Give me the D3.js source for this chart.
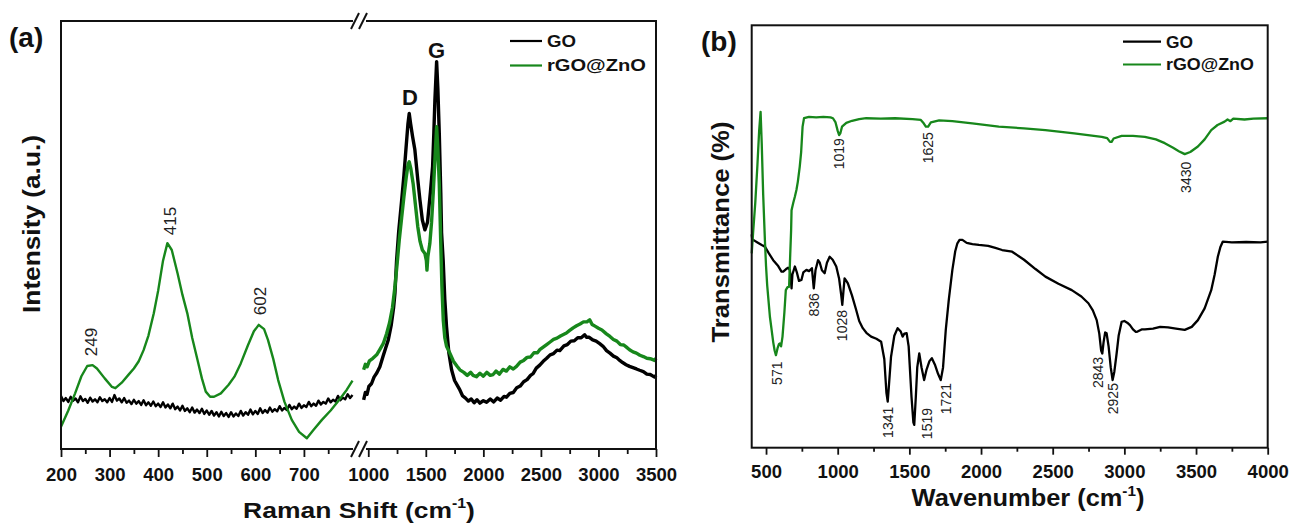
<!DOCTYPE html>
<html>
<head>
<meta charset="utf-8">
<script src="https://cdn.jsdelivr.net/npm/d3@7"></script>
<style>
  body { margin: 0; background: #fff; }
  svg { display: block; }
  text { font-family: "Liberation Sans", Arial, sans-serif; }
</style>
</head>
<body>
<svg id="fig" width="1294" height="525"></svg>
<script>
// ---------------- data ----------------

// (a) Raman : [shift cm-1, intensity a.u.]
const ramanGOLow = [
  [200,12.4],[205,11.2],[210,11.9],[215,11.0],[220,12.2],[225,11.3],[230,11.8],[235,10.9],[240,12.3],[245,11.2],
  [250,11.7],[255,10.8],[260,12.0],[265,11.1],[270,11.6],[275,10.9],[280,12.1],[285,11.2],[290,11.6],[295,10.9],
  [300,11.9],[305,11.0],[310,12.6],[315,11.3],[320,11.8],[325,10.9],[330,11.9],[335,10.8],[340,11.3],[345,10.5],
  [350,11.5],[355,10.6],[360,11.2],[365,10.3],[370,11.4],[375,10.2],[380,10.9],[385,10.1],[390,11.1],[395,10.0],
  [400,10.6],[405,9.8],[410,10.9],[415,9.7],[420,10.4],[425,9.5],[430,10.6],[435,9.3],[440,9.9],[445,9.0],
  [450,10.1],[455,8.9],[460,9.5],[465,8.6],[470,9.7],[475,8.5],[480,9.2],[485,8.4],[490,9.4],[495,8.2],
  [500,9.0],[505,8.0],[510,8.9],[515,7.8],[520,8.6],[525,7.6],[530,8.7],[535,7.7],[540,8.4],[545,7.5],
  [550,8.6],[555,7.6],[560,8.3],[565,7.7],[570,8.9],[575,7.8],[580,8.6],[585,8.0],[590,9.2],[595,8.1],
  [600,8.9],[605,8.2],[610,9.5],[615,8.4],[620,9.1],[625,8.5],[630,9.7],[635,8.7],[640,9.3],[645,8.8],
  [650,10.0],[655,9.0],[660,9.6],[665,9.1],[670,10.3],[675,9.3],[680,9.9],[685,9.4],[690,10.6],[695,9.6],
  [700,10.2],[705,9.8],[710,11.0],[715,10.0],[720,10.6],[725,10.1],[730,11.3],[735,10.4],[740,11.0],[745,10.6],
  [750,11.8],[755,10.9],[760,11.5],[765,11.1],[770,12.4],[775,11.4],[780,12.0],[785,11.6],[790,12.8],[795,11.9],[800,12.6]
];
const ramanZnOLow = [
  [200,5.2],[215,9],[229,13],[242,17],[254,19.4],[265,19.6],[274,18.8],[290,16.5],[305,14.5],[312,14.2],
  [325,15.5],[340,17.5],[350,18.8],[360,20.5],[370,23.1],[380,26.5],[391,31.7],[400,37],[410,44],[419,48.1],
  [428,46.5],[440,41],[450,36],[460,31.7],[470,26],[481,20.8],[490,16.5],[498,13.4],[507,12.2],[515,12.2],
  [529,13],[545,15],[557,16.9],[570,20],[585,24.3],[597,27.5],[607,29],[618,28],[626,25.5],[637,21],
  [647,16.1],[660,11],[675,6.8],[690,4],[706,2.5],[720,4.5],[737,6.8],[755,9],[772,11.4],[788,13.8],[800,16]
];
const ramanGOHigh = [
  [960,11.5],[975,13.2],[990,12.8],[1005,14.6],[1029,15.3],[1050,16.8],[1075,17.8],[1101,19.2],[1130,21.8],[1150,23.5],
  [1174,25.5],[1200,29],[1220,33],[1232,36.4],[1246,44],[1265,51],[1290,58],[1310,64],[1327,69.9],[1345,76],
  [1356,78.4],[1368,76],[1385,73],[1405,69.9],[1430,63],[1449,58.2],[1470,53.5],[1492,51.2],[1515,53],[1540,60],
  [1559,66],[1570,74],[1579,81.5],[1594,90.5],[1605,84],[1617,73.8],[1630,60],[1637,50.5],[1651,44],[1665,35],
  [1680,28.6],[1700,22.5],[1724,18.5],[1750,16],[1775,14.8],[1796,13.8],[1820,12.4],[1845,11.9],[1870,11.2],[1895,11.7],
  [1920,10.8],[1945,11.5],[1970,10.7],[2000,11.3],[2028,10.9],[2060,11.7],[2090,11.0],[2120,11.9],[2150,11.4],[2180,12.3],
  [2201,12.1],[2230,13.0],[2260,13.2],[2290,14.3],[2320,14.7],[2350,15.7],[2380,16.2],[2410,17.2],[2432,17.6],[2460,18.9],
  [2490,19.6],[2520,20.5],[2550,21.2],[2580,22.0],[2610,22.3],[2640,23.1],[2664,23.0],[2700,24.1],[2730,24.4],[2760,25.2],
  [2790,25.3],[2820,26.0],[2850,26.0],[2880,26.7],[2896,26.1],[2920,26.1],[2950,25.5],[2980,25.2],[3011,24.6],[3040,24.0],
  [3070,23.0],[3100,22.4],[3130,21.7],[3160,21.3],[3185,20.7],[3210,20.2],[3240,19.7],[3270,19.3],[3300,19.0],[3330,18.7],
  [3358,18.4],[3390,18.1],[3420,17.5],[3450,17.4],[3488,16.8],[3500,17.2]
];
const ramanZnOHigh = [
  [960,18.5],[975,19.8],[990,19.2],[1010,20.6],[1040,21.2],[1073,22],[1100,23.2],[1130,24.6],[1160,27],[1185,29.5],
  [1210,33],[1232,37.9],[1250,43],[1270,49],[1290,54],[1310,59],[1330,63.5],[1346,66.5],[1356,67.1],[1370,65.5],
  [1390,62],[1410,57],[1430,52],[1450,48.5],[1470,46.5],[1492,45.7],[1505,44],[1510,41.8],[1518,45],[1535,48],
  [1550,53],[1565,60],[1580,68],[1594,75.3],[1605,70],[1617,62],[1630,48],[1640,38],[1652,30],[1665,26],
  [1680,24],[1709,22.4],[1740,20.5],[1770,19.4],[1796,18.5],[1830,17.9],[1860,17.2],[1890,17.9],[1911,17.2],[1940,16.9],
  [1970,17.7],[2000,17.0],[2030,17.9],[2060,17.2],[2085,17.4],[2110,18.2],[2140,17.5],[2170,18.6],[2200,18.2],[2230,19.2],
  [2260,18.7],[2288,19.3],[2320,20.3],[2350,20.7],[2380,21.4],[2410,21.5],[2440,22.5],[2470,22.5],[2490,23.2],[2520,23.8],
  [2550,24.4],[2580,25.0],[2610,25.6],[2640,25.9],[2670,26.4],[2700,26.8],[2722,27.1],[2750,27.7],[2780,28.3],[2810,28.8],
  [2840,29.2],[2870,29.7],[2900,29.7],[2924,30.2],[2945,29.1],[2970,28.7],[3000,28.2],[3030,27.8],[3069,26.9],[3100,26.3],
  [3130,25.6],[3160,25.2],[3190,24.4],[3220,24.3],[3243,23.8],[3270,23.2],[3300,22.7],[3330,22.4],[3360,21.9],[3390,21.6],
  [3420,21.2],[3450,21.1],[3488,20.7],[3500,21.2]
];
const ramanTicksLow = [200, 300, 400, 500, 600, 700];
const ramanMinorLow = [250, 350, 450, 550, 650, 750];
const ramanTicksHigh = [1000, 1500, 2000, 2500, 3000, 3500];
const ramanMinorHigh = [1250, 1750, 2250, 2750, 3250];
// [label, shift, intensity at label top]
const ramanPeakLabels = [["249", 261, 28.3], ["415", 424, 56.6], ["602", 609, 37.9]];
const ramanBandLabels = [["D", 1362, 80.4], ["G", 1594, 91.3]];

// (b) FTIR : [wavenumber cm-1, transmittance %]
const ftirGO = [
  [400,50.5],[405,49.0],[411,49.2],[440,48.6],[470,48.0],[492,47.6],[520,46],[550,44.4],[585,43],[608,41.7],
  [620,41.7],[640,42.3],[654,42.6],[666,42.1],[672,40],[678,37.7],[684,41],[701,42.9],[715,41.5],[730,39.5],
  [747,39.7],[760,41.5],[782,42.1],[800,41.8],[820,42.5],[833,37.7],[845,42],[863,44.4],[875,43.8],[890,42.0],
  [909,41.3],[925,43.8],[944,45.2],[965,44.5],[990,42.9],[1010,40],[1025,36],[1032,33.8],[1040,37],[1048,40.1],
  [1058,39.6],[1071,38.9],[1100,36],[1129,32.6],[1150,30],[1175,28.3],[1200,27.2],[1233,26.3],[1270,25.8],[1303,25.1],
  [1325,21],[1340,13],[1349,10.9],[1358,15],[1372,21.5],[1395,26.5],[1418,28.3],[1440,27.5],[1453,26.3],[1465,27],
  [1481,27.1],[1495,24],[1515,12],[1528,6],[1534,5.4],[1545,12],[1555,19],[1569,22.3],[1585,19],[1603,16],
  [1620,18.5],[1640,20.5],[1657,21.2],[1680,19.5],[1700,17.5],[1719,16],[1735,19],[1754,27.9],[1775,35],[1800,42.1],
  [1820,46.5],[1835,48.4],[1850,49.2],[1870,49.2],[1900,48.5],[1940,48.2],[1985,48],[2050,47.8],[2100,47.3],[2147,46.8],
  [2217,46.4],[2300,44.5],[2380,42.3],[2449,40.5],[2540,38.8],[2633,37.3],[2700,35.8],[2749,34.2],[2780,32.5],[2807,30.2],
  [2825,27],[2838,23],[2846,22.3],[2855,25],[2866,27.3],[2876,27.1],[2890,24],[2905,19],[2918,16],[2930,18],
  [2946,22.3],[2960,26.5],[2981,29.8],[3000,30],[3020,29.6],[3039,29],[3060,28],[3080,27.4],[3092,27.5],[3120,28],
  [3143,28],[3200,28.2],[3250,28.6],[3305,28.5],[3360,28.2],[3421,27.9],[3470,28.6],[3513,30.2],[3560,33],[3606,37.3],
  [3630,41],[3652,45.2],[3670,47.5],[3687,48.8],[3750,48.6],[3850,48.7],[3950,48.6],[4000,48.8]
];
const ftirZnO = [
  [400,46],[410,51],[425,58],[440,67],[452,75],[462,79.5],[470,72],[480,60],[492,49.2],[500,43],
  [508,38.5],[515,35.7],[527,31],[539,27.9],[550,25],[560,23],[569,21.9],[580,23.5],[590,24.5],[597,24.7],
  [605,24],[615,26.3],[628,32],[638,37.3],[650,38],[661,38.1],[668,45],[675,51.5],[678,56.2],[690,58],
  [701,59.4],[712,61],[722,63],[735,66.5],[745,70],[755,76],[765,78],[800,78.3],[850,78.2],[900,78.3],
  [950,78.2],[967,78],[985,77],[1000,75],[1010,74],[1018,74.4],[1030,76],[1060,76.9],[1100,77.4],[1150,77.8],
  [1199,78],[1300,77.9],[1400,78],[1522,77.8],[1580,77.6],[1600,76.8],[1615,76],[1631,76],[1650,77],[1708,77.5],
  [1800,77.3],[1939,76.8],[2124,76],[2300,75.6],[2449,75.2],[2650,74.4],[2842,73.6],[2880,73.3],[2900,72.4],[2911,72.4],
  [2925,73.2],[2981,73.8],[3060,73.8],[3143,73.6],[3220,73],[3282,72.1],[3340,71],[3380,70.2],[3421,69.5],[3460,70],
  [3513,71.3],[3560,73],[3606,75.2],[3650,76.4],[3699,77.2],[3720,77.7],[3740,77.3],[3760,77.9],[3838,77.7],[3900,77.9],[4000,78]
];
const ftirTicks = [500, 1000, 1500, 2000, 2500, 3000, 3500, 4000];
const ftirMinor = [750, 1250, 1750, 2250, 2750, 3250, 3750];
// [label, wavenumber, transmittance at label top]
const ftirPeakLabels = [
  ["571", 574, 20.4], ["836", 833, 36.6], ["1028", 1032, 32.6], ["1341", 1349, 9.7],
  ["1519", 1626, 9.4], ["1721", 1754, 15.3], ["1019", 1013, 73.3], ["1625", 1631, 74.7],
  ["3430", 3432, 67.7], ["2843", 2819, 21.5], ["2925", 2923, 15.3]
];

const seriesNames = ["GO", "rGO@ZnO"];
const seriesColors = ["#000000", "#17871b"];

// ---------------- drawing ----------------
const svg = d3.select("#fig");
const fmt = d3.format("d");

// stretch a text along its length (the figure uses a wide bold face)
function fitText(t, w) {
  const len = t.node().getComputedTextLength();
  t.attr("transform", `scale(${w / len},1)`);
}

function title(parent, x, y, label, size, width, rotate) {
  const g = parent.append("g")
    .attr("transform", `translate(${x},${y})` + (rotate ? " rotate(-90)" : ""));
  const t = g.append("text")
    .attr("text-anchor", "middle")
    .attr("font-size", size)
    .attr("font-weight", "bold")
    .attr("fill", "#111");
  const parts = label.split("^");
  t.append("tspan").text(parts[0]);
  if (parts.length > 1) {
    t.append("tspan").attr("font-size", size * 0.6).attr("dy", -size * 0.42).text(parts[1]);
    t.append("tspan").attr("dy", size * 0.42).text(parts[2]);
  }
  fitText(t, width);
}

function legend(parent, x0, x1, ys, widths) {
  seriesNames.forEach((name, i) => {
    parent.append("line")
      .attr("x1", x0).attr("x2", x1).attr("y1", ys[i]).attr("y2", ys[i])
      .attr("stroke", seriesColors[i]).attr("stroke-width", 2.2);
    const g = parent.append("g").attr("transform", `translate(${x1 + 5},${ys[i] + 5.8})`);
    const t = g.append("text")
      .attr("font-size", 16.5).attr("font-weight", "bold").attr("fill", "#111")
      .text(name);
    fitText(t, widths[i]);
  });
}

function rotLabel(parent, x, y, label, size) {
  parent.append("text")
    .attr("transform", `translate(${x},${y}) rotate(-90)`)
    .attr("text-anchor", "end")
    .attr("dy", "0.35em")
    .attr("font-size", size)
    .attr("fill", "#222")
    .text(label);
}

function styleAxis(g) {
  g.select(".domain").remove();
  g.selectAll(".tick line").attr("stroke", "#111").attr("stroke-width", 1.8);
  g.selectAll(".tick text")
    .attr("font-size", 18.5).attr("font-weight", "bold").attr("fill", "#111")
    .attr("font-family", "'Liberation Sans', Arial, sans-serif");
}

// ---------- panel (a) Raman ----------
const A = { left: 61, right: 656, top: 21, bottom: 449 };
const xLow = d3.scaleLinear().domain([200, 800]).range([61, 352.5]);
const xHigh = d3.scaleLinear().domain([950, 3500]).range([362.5, 656]);
const yA = d3.scaleLinear().domain([0, 100]).range([A.bottom, A.top]);

const pa = svg.append("g");

[[xLow, ramanTicksLow, ramanMinorLow], [xHigh, ramanTicksHigh, ramanMinorHigh]].forEach(([sx, maj, mnr]) => {
  pa.append("g").attr("transform", `translate(0,${A.bottom})`)
    .call(d3.axisBottom(sx).tickValues(maj).tickSize(8).tickPadding(11).tickFormat(fmt))
    .call(styleAxis);
  pa.append("g").attr("transform", `translate(0,${A.bottom})`)
    .call(d3.axisBottom(sx).tickValues(mnr).tickSize(5).tickFormat(""))
    .call(styleAxis);
});

const lineLow = d3.line().x(d => xLow(d[0])).y(d => yA(d[1]));
const lineHigh = d3.line().x(d => xHigh(d[0])).y(d => yA(d[1]));

pa.append("path").datum(ramanGOLow).attr("d", lineLow)
  .attr("fill", "none").attr("stroke", seriesColors[0]).attr("stroke-width", 2.4).attr("stroke-linejoin", "round");
pa.append("path").datum(ramanGOHigh).attr("d", lineHigh)
  .attr("fill", "none").attr("stroke", seriesColors[0]).attr("stroke-width", 3.4).attr("stroke-linejoin", "round");
pa.append("path").datum(ramanZnOLow).attr("d", lineLow)
  .attr("fill", "none").attr("stroke", seriesColors[1]).attr("stroke-width", 2.4).attr("stroke-linejoin", "round");
pa.append("path").datum(ramanZnOHigh).attr("d", lineHigh)
  .attr("fill", "none").attr("stroke", seriesColors[1]).attr("stroke-width", 3.4).attr("stroke-linejoin", "round");

// frame with axis break
const gapL = 353, gapR = 366;
const frameA = pa.append("g").attr("stroke", "#111").attr("stroke-width", 2).attr("fill", "none");
frameA.append("path").attr("d",
  `M${gapL},${A.top}H${A.left}V${A.bottom}H${gapL}` +
  `M${gapR},${A.bottom}H${A.right}V${A.top}H${gapR}`);
[A.top, A.bottom].forEach(yy => {
  [gapL + 2, gapR - 3].forEach(xx => {
    frameA.append("line").attr("x1", xx - 4).attr("y1", yy + 8).attr("x2", xx + 4).attr("y2", yy - 8);
  });
});

ramanPeakLabels.forEach(([lab, v, t]) => rotLabel(pa, xLow(v), yA(t), lab, 17));
ramanBandLabels.forEach(([lab, v, t]) => {
  pa.append("text").attr("x", xHigh(v)).attr("y", yA(t))
    .attr("text-anchor", "middle").attr("font-size", 22).attr("font-weight", "bold").attr("fill", "#111")
    .text(lab);
});

legend(pa, 510, 542, [41, 65.5], [29, 99]);
pa.append("text").attr("x", 9).attr("y", 47).attr("font-size", 28).attr("font-weight", "bold").attr("fill", "#111").text("(a)");
title(pa, 359, 518, "Raman Shift (cm^-1^)", 23, 232, false);
title(pa, 40, 224, "Intensity (a.u.)", 23, 178, true);

// ---------- panel (b) FTIR ----------
const B = { left: 751.7, right: 1267.7, top: 25.3, bottom: 447.7 };
const xB = d3.scaleLinear().domain([400, 4000]).range([B.left, B.right]);
const yB = d3.scaleLinear().domain([0, 100]).range([B.bottom, B.top]);

const pb = svg.append("g");
pb.append("g").attr("transform", `translate(0,${B.bottom})`)
  .call(d3.axisBottom(xB).tickValues(ftirTicks).tickSize(7).tickPadding(10).tickFormat(fmt))
  .call(styleAxis);
pb.append("g").attr("transform", `translate(0,${B.bottom})`)
  .call(d3.axisBottom(xB).tickValues(ftirMinor).tickSize(4).tickFormat(""))
  .call(styleAxis);

const lineB = d3.line().x(d => xB(d[0])).y(d => yB(d[1]));
pb.append("path").datum(ftirGO).attr("d", lineB)
  .attr("fill", "none").attr("stroke", seriesColors[0]).attr("stroke-width", 2.3).attr("stroke-linejoin", "round");
pb.append("path").datum(ftirZnO).attr("d", lineB)
  .attr("fill", "none").attr("stroke", seriesColors[1]).attr("stroke-width", 2.3).attr("stroke-linejoin", "round");

pb.append("rect").attr("x", B.left).attr("y", B.top)
  .attr("width", B.right - B.left).attr("height", B.bottom - B.top)
  .attr("fill", "none").attr("stroke", "#111").attr("stroke-width", 2);

ftirPeakLabels.forEach(([lab, v, t]) => rotLabel(pb, xB(v), yB(t), lab, 14));

legend(pb, 1123, 1161, [41.7, 64.5], [27, 88]);
pb.append("text").attr("x", 701).attr("y", 51).attr("font-size", 28).attr("font-weight", "bold").attr("fill", "#111").text("(b)");
title(pb, 1028, 506, "Wavenumber (cm^-1^)", 23, 233, false);
title(pb, 729, 232, "Transmittance (%)", 23, 221, true);
</script>
</body>
</html>
